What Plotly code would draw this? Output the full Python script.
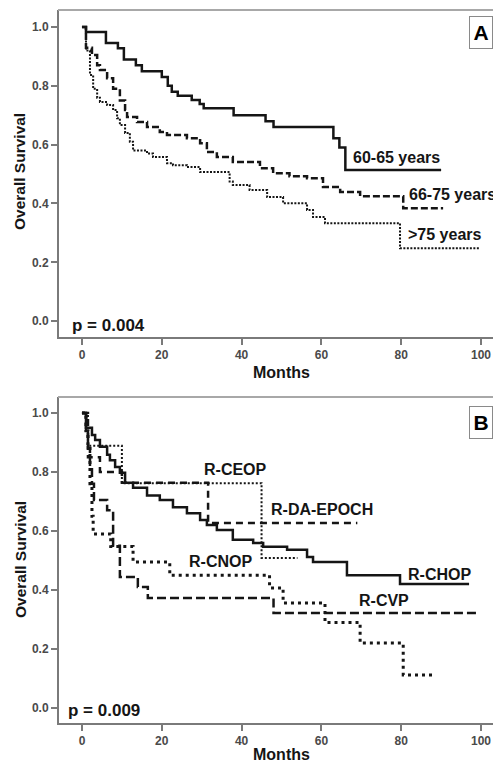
import plotly.graph_objects as go

# ---------------- Panel A: age groups ----------------
a_6065_t = [0, 1, 6, 9, 10.5, 13.5, 15, 20, 21.5, 22.5, 24, 27.5, 29.5, 30.5, 38, 46, 48, 63, 64.5, 66, 90]
a_6065_s = [1.0, 0.983, 0.946, 0.928, 0.89, 0.87, 0.85, 0.83, 0.80, 0.78, 0.766, 0.752, 0.738, 0.724,
            0.70, 0.68, 0.66, 0.622, 0.59, 0.514, 0.514]

a_6675_t = [0, 1, 2.5, 3.8, 4.5, 6.3, 7.8, 9.5, 10.8, 11.3, 13.8, 16.3, 19.5, 21.3, 26.3, 29.6, 31.3,
            33.8, 37.8, 44.6, 47.9, 52, 56.4, 60.4, 64.7, 69.7, 80.5, 90.5]
a_6675_s = [1.0, 0.93, 0.905, 0.87, 0.854, 0.826, 0.79, 0.75, 0.718, 0.694, 0.677, 0.66, 0.643, 0.633,
            0.622, 0.605, 0.575, 0.558, 0.541, 0.52, 0.503, 0.493, 0.486, 0.456, 0.439, 0.425, 0.384, 0.384]

a_75_t = [0, 1, 2, 2.8, 3.8, 4.5, 6.3, 7.8, 8.8, 9.5, 10.8, 12, 12.8, 16.3, 17.8, 21.3, 22.8, 26.3,
          29.6, 37.0, 37.8, 42, 46.4, 50.4, 56.4, 57.9, 60.9, 79.7, 99.7]
a_75_s = [1.0, 0.92, 0.837, 0.79, 0.76, 0.745, 0.735, 0.718, 0.69, 0.667, 0.64, 0.61, 0.58, 0.57, 0.558,
          0.537, 0.53, 0.524, 0.507, 0.475, 0.463, 0.446, 0.422, 0.401, 0.378, 0.354, 0.333, 0.248, 0.248]

# ---------------- Panel B: regimens ----------------
b_chop_t = [0, 1, 2.5, 3.3, 4.5, 6.3, 7, 8.3, 9.5, 10.8, 12.8, 16.3, 19.5, 22.8, 26.3, 29.6, 31.3, 33.8,
            37.8, 42.9, 45.4, 51.4, 56.4, 57.9, 66.4, 79.7, 97]
b_chop_s = [1.0, 0.95, 0.925, 0.908, 0.885, 0.858, 0.84, 0.817, 0.797, 0.763, 0.746, 0.72, 0.705, 0.68,
            0.66, 0.637, 0.62, 0.603, 0.57, 0.559, 0.546, 0.536, 0.512, 0.495, 0.45, 0.42, 0.42]

b_ceop_t = [0, 1.5, 10, 45, 54]
b_ceop_s = [1.0, 0.889, 0.762, 0.508, 0.508]

b_epoch_t = [0, 1.5, 4.5, 10, 31.6, 69]
b_epoch_s = [1.0, 0.85, 0.80, 0.763, 0.627, 0.627]

b_cnop_t = [0, 1, 1.5, 2, 2.5, 2.8, 7.2, 12.8, 22, 47, 50.4, 60.9, 69.7, 80.5, 88]
b_cnop_s = [1.0, 0.94, 0.88, 0.76, 0.65, 0.59, 0.547, 0.495, 0.45, 0.407, 0.356, 0.29, 0.22, 0.112, 0.112]

b_cvp_t = [0, 1, 1.5, 2, 2.5, 3, 6.3, 7.8, 9.5, 14, 16.5, 48, 99.7]
b_cvp_s = [1.0, 0.94, 0.88, 0.82, 0.76, 0.705, 0.67, 0.55, 0.444, 0.41, 0.373, 0.322, 0.322]

x_ticks = [0, 20, 40, 60, 80, 100]
y_ticks = [0.0, 0.2, 0.4, 0.6, 0.8, 1.0]

W, H = 493, 764
INK = "#151515"
AX = "#7a7a7a"
FONT = "Liberation Sans, Arial, sans-serif"


def px_x(p):
    return p / W


def px_y(p):
    return 1 - p / H


fig = go.Figure()


def step(t, s, dash, width, xa, ya):
    fig.add_trace(go.Scatter(x=t, y=s, mode="lines", line=dict(shape="hv", color=INK, width=width, dash=dash),
                             xaxis=xa, yaxis=ya, showlegend=False, hoverinfo="skip"))


step(a_75_t, a_75_s, "2px,1.5px", 2, "x", "y")
step(a_6675_t, a_6675_s, "7px,3px", 2.5, "x", "y")
step(a_6065_t, a_6065_s, "solid", 2.5, "x", "y")

step(b_cvp_t, b_cvp_s, "9px,4px", 2.5, "x2", "y2")
step(b_cnop_t, b_cnop_s, "3px,4px", 3, "x2", "y2")
step(b_epoch_t, b_epoch_s, "7px,5px", 2.5, "x2", "y2")
step(b_ceop_t, b_ceop_s, "2px,2px", 2, "x2", "y2")
step(b_chop_t, b_chop_s, "solid", 2.5, "x2", "y2")

xrange = [-5.76, 103.0]
tickfont = dict(family=FONT, size=12, color="#4a4a4a", weight=700)
xcommon = dict(range=xrange, tickvals=x_ticks, ticks="outside", ticklen=6, tickwidth=2, tickcolor=AX,
               showline=True, linecolor=AX, linewidth=2, showgrid=False, zeroline=False, tickfont=tickfont,
               domain=[px_x(59), 1])
ycommon = dict(tickvals=y_ticks, tickformat=".1f", ticks="outside", ticklen=6, tickwidth=2, tickcolor=AX,
               showline=True, linecolor=AX, linewidth=2, showgrid=False, zeroline=False, tickfont=tickfont)

fig.update_layout(
    width=W, height=H, margin=dict(l=0, r=0, t=0, b=0),
    paper_bgcolor="white", plot_bgcolor="white",
    xaxis=dict(**xcommon, anchor="y"),
    yaxis=dict(**ycommon, range=[-0.054, 1.058], domain=[px_y(337), px_y(10)], anchor="x"),
    xaxis2=dict(**xcommon, anchor="y2"),
    yaxis2=dict(**ycommon, range=[-0.051, 1.054], domain=[px_y(723), px_y(397)], anchor="x2"),
)

# top frame lines
for ytop in (10, 397):
    fig.add_shape(type="line", xref="paper", yref="paper", x0=px_x(58), x1=1, y0=px_y(ytop), y1=px_y(ytop),
                  line=dict(color="#a8a8a8", width=2))

lab = dict(family=FONT, size=16, color=INK, weight=700)
curve_labels = [
    ("60-65 years", 67.5, 0.558, "x", "y"),
    ("66-75 years", 81.5, 0.432, "x", "y"),
    (">75 years", 81.3, 0.293, "x", "y"),
    ("R-CEOP", 30.1, 0.807, "x2", "y2"),
    ("R-DA-EPOCH", 46.9, 0.671, "x2", "y2"),
    ("R-CNOP", 26.4, 0.495, "x2", "y2"),
    ("R-CHOP", 81.3, 0.451, "x2", "y2"),
    ("R-CVP", 69.0, 0.363, "x2", "y2"),
]
for text, xv, yv, xr, yr in curve_labels:
    fig.add_annotation(text=text, x=xv, y=yv, xref=xr, yref=yr, xanchor="left", yanchor="middle",
                       showarrow=False, font=lab)

pfont = dict(family=FONT, size=17, color=INK, weight=700)
fig.add_annotation(text="p = 0.004", x=-2.9, y=-0.014, xref="x", yref="y", xanchor="left", yanchor="middle",
                   showarrow=False, font=pfont)
fig.add_annotation(text="p = 0.009", x=-3.9, y=-0.007, xref="x2", yref="y2", xanchor="left", yanchor="middle",
                   showarrow=False, font=pfont)

titlefont = dict(family=FONT, size=15.5, color=INK, weight=700)
for yc in (172, 560):
    fig.add_annotation(text="Overall Survival", x=px_x(20), y=px_y(yc), xref="paper", yref="paper",
                       textangle=-90, showarrow=False, font=titlefont, xanchor="center", yanchor="middle")
for yc in (372, 754):
    fig.add_annotation(text="Months", x=px_x(281), y=px_y(yc), xref="paper", yref="paper",
                       showarrow=False, font=dict(family=FONT, size=16, color=INK, weight=700),
                       xanchor="center", yanchor="middle")

for letter, yc in (("A", 32), ("B", 422)):
    fig.add_annotation(text=letter, x=px_x(481), y=px_y(yc), xref="paper", yref="paper",
                       showarrow=False, font=dict(family=FONT, size=21, color="#000000", weight=700),
                       xanchor="center", yanchor="middle", bordercolor="#8a8a8a", borderwidth=1,
                       borderpad=2, bgcolor="white", width=18, height=27)

fig.write_html("out.html", config={"displayModeBar": False},
               post_script="document.body.style.margin='0';document.body.style.overflow='hidden';")
